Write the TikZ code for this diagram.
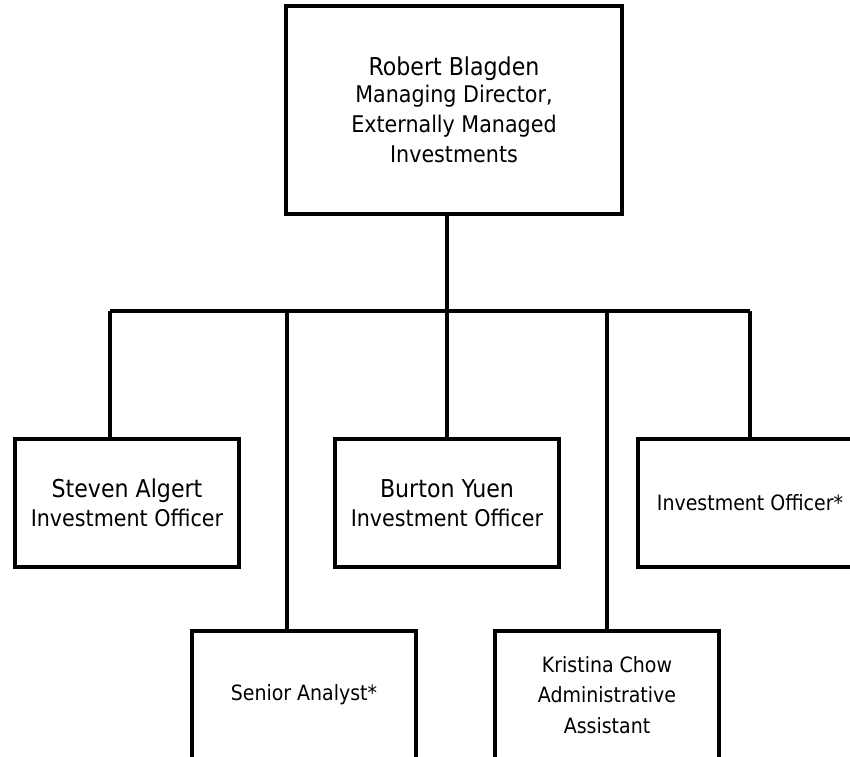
\documentclass[tikz,border=0pt]{standalone}
\usepackage{fontspec}
\setmainfont{DejaVu Sans Condensed}
\usetikzlibrary{positioning,calc}
\definecolor{ink}{RGB}{0,0,0}
\newcommand{\namefont}{\fontsize{21}{24}\selectfont}
\tikzset{
  post/.style={draw=ink,line width=2.6pt,fill=white,align=center,
    minimum width=67.2mm,minimum height=38.4mm,inner sep=0pt,
    font=\fontsize{19.6}{25.5}\selectfont},
  post small/.style={post,font=\fontsize{18}{26}\selectfont},
  chief/.style={post,minimum width=100.8mm,minimum height=62.4mm},
  link/.style={draw=ink,line width=2.6pt},
}
\begin{document}
\begin{tikzpicture}[x=0.3mm,y=-0.3mm]
  \useasboundingbox (0,0) rectangle (850,757);
  \clip (0,0) rectangle (850,757);
  % boxes
  \node[chief] (robert) at (454,110) {{\namefont Robert Blagden}\\[-2.5pt]Managing Director,\\Externally Managed\\Investments};
  \node[post] (steven) at (127,503) {{\namefont Steven Algert}\\[-1pt]Investment Officer};
  \node[post] (burton) at (447,503) {{\namefont Burton Yuen}\\[-1pt]Investment Officer};
  \node[post small] (invoff) at (750,503) {Investment Officer*};
  \node[post small] (analyst) at (304,695) {Senior Analyst*};
  \node[post small] (kristina) at (607,695) {Kristina Chow\\Administrative\\Assistant};
  % bus
  \coordinate (busL) at (110,311);
  \coordinate (busR) at (750,311);
  \coordinate (tapA) at (287,311);
  \coordinate (tapK) at (607,311);
  \draw[link] (busL) -- (busR);
  \draw[link] (robert.south -| burton.north) -- (burton.north);
  \draw[link] (busL) -- (busL |- steven.north);
  \draw[link] (busR) -- (invoff.north);
  \draw[link] (tapA) -- (tapA |- analyst.north);
  \draw[link] (tapK) -- (kristina.north);
\end{tikzpicture}
\end{document}
